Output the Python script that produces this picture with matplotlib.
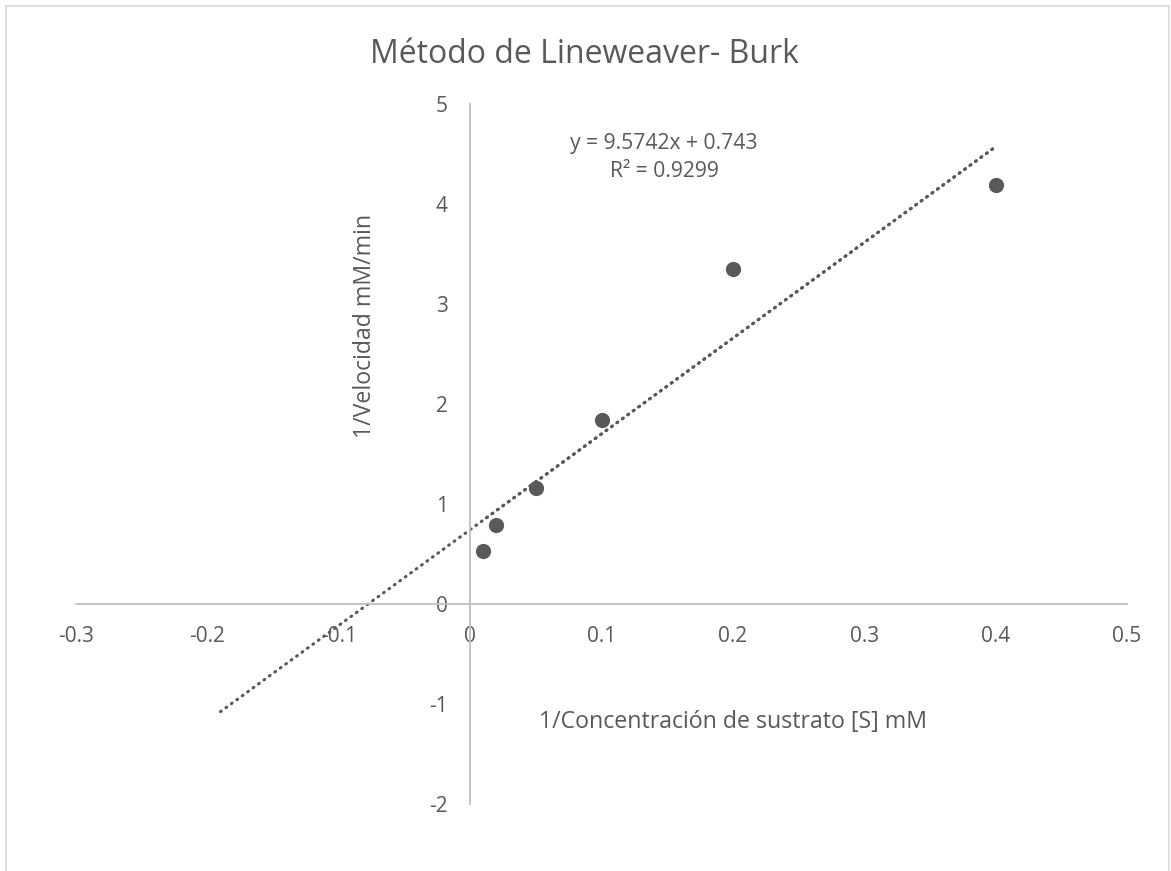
import matplotlib
matplotlib.use("Agg")
import matplotlib.pyplot as plt
from matplotlib.patches import Rectangle
import numpy as np

# Data
inv_s = [0.01, 0.02, 0.05, 0.1, 0.2, 0.4]
inv_v = [0.53, 0.79, 1.16, 1.84, 3.35, 4.19]
slope = 9.5742
intercept = 0.743
r2 = 0.9299
backward_forecast = 0.2
x_ticks = [-0.3, -0.2, -0.1, 0, 0.1, 0.2, 0.3, 0.4, 0.5]
x_tick_labels = ["-0.3", "-0.2", "-0.1", "0", "0.1", "0.2", "0.3", "0.4", "0.5"]
y_ticks = [-2, -1, 0, 1, 2, 3, 4, 5]
y_tick_labels = ["-2", "-1", "0", "1", "2", "3", "4", "5"]

plt.rcParams['font.family'] = ['Open Sans', 'DejaVu Sans']
W, H = 1171, 871
fig = plt.figure(figsize=(W / 100, H / 100), dpi=100)
ax = fig.add_axes([76 / W, 67 / H, 1051 / W, 700 / H])
ax.set_xlim(-0.3, 0.5)
ax.set_ylim(-2, 5)

grey = "#595959"
axis_grey = "#BFBFBF"
for s in ["top", "right"]:
    ax.spines[s].set_visible(False)
ax.spines["left"].set_position(("data", 0))
ax.spines["bottom"].set_position(("data", 0))
for s in ["left", "bottom"]:
    ax.spines[s].set_color(axis_grey)
    ax.spines[s].set_linewidth(1.3)

ax.set_xticks(x_ticks)
ax.set_xticklabels(x_tick_labels)
ax.set_yticks(y_ticks)
ax.set_yticklabels(y_tick_labels)
ax.tick_params(axis="x", length=0, pad=16, labelsize=15, labelcolor=grey)
ax.tick_params(axis="y", length=0, pad=16, labelsize=15, labelcolor=grey)

# Trendline
x0 = min(inv_s) - backward_forecast
x1 = max(inv_s)
xs = np.array([x0, x1])
ax.plot(xs, slope * xs + intercept, color=grey, lw=2.2,
        linestyle=(0, (0.3, 1.9)), dash_capstyle="round", zorder=2)
xd = np.array([min(inv_s), x1])
ax.plot(xd, slope * xd + intercept, color=grey, lw=2.2,
        linestyle=(0.9, (0.3, 1.9)), dash_capstyle="round", zorder=2)

ax.scatter(inv_s, inv_v, s=120, color=grey, zorder=3, linewidths=0)

fig.text(584 / W, 1 - 63 / H, "Método de Lineweaver- Burk", ha="center", va="baseline",
         fontsize=23, color=grey)
fig.text(664 / W, 1 - 149 / H, f"y = {slope}x + {intercept}", ha="center", va="baseline",
         fontsize=15.2, color=grey)
fig.text(664 / W, 1 - 177 / H, f"R² = {r2}", ha="center", va="baseline",
         fontsize=15.2, color=grey)
fig.text(733 / W, 1 - 728 / H, "1/Concentración de sustrato [S] mM", ha="center",
         va="baseline", fontsize=16.7, color=grey)
fig.text(365 / W, 1 - 326 / H, "1/Velocidad mM/min", ha="center", va="center",
         rotation=90, fontsize=16.7, color=grey)

fig.patches.append(Rectangle((6 / W, -0.1), (1169 - 6) / W, 1.1 - 6 / H,
                             transform=fig.transFigure, fill=False,
                             edgecolor="#D9D9D9", lw=1.2))

fig.savefig("out.png", dpi=100)
